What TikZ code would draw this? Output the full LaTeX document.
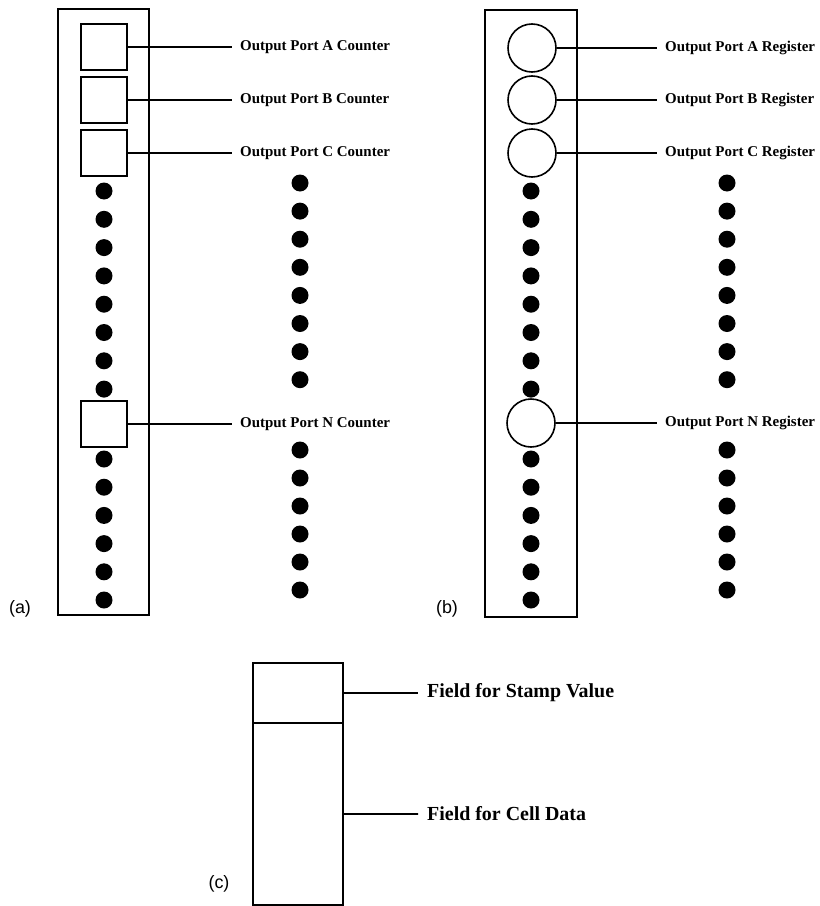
\documentclass[tikz,border=0pt]{standalone}
\usepackage{fontspec}
\setmainfont{Liberation Serif}
\setsansfont{Liberation Sans}
\usetikzlibrary{positioning}
\tikzset{
  frame/.style={line width=1.6bp},
  leader/.style={line width=1.6bp},
  slot/.style={draw,line width=1.6bp,fill=white,minimum size=46bp,inner sep=0pt},
  regcirc/.style={draw,circle,line width=1.6bp,fill=white,minimum size=48bp,inner sep=0pt},
  celldot/.style={fill,circle,minimum size=17bp,inner sep=0pt},
  field/.style={draw,line width=1.6bp,minimum width=90bp,inner sep=0pt,outer sep=0pt},
  portlabel/.style={anchor=west,inner xsep=8bp,inner ysep=0pt,font=\fontsize{15}{18}\selectfont\bfseries},
  fieldlabel/.style={anchor=west,inner xsep=9bp,inner ysep=0pt,font=\fontsize{20}{24}\selectfont\bfseries},
  panellabel/.style={font=\sffamily\fontsize{18}{20}\selectfont,inner sep=0pt}
}

\begin{document}
\begin{tikzpicture}[x=1bp,y=-1bp]
  \useasboundingbox (0,0) rectangle (820,906);

  % (a) counters
  \draw[frame] (58,9) rectangle (149,615);
  \foreach \k in {0,...,7} {
    \node[celldot] (adot\k) at (104,{191+28.3*\k}) {};
    \node[celldot] (arow\k) at (300,{183+28.1*\k}) {};
  }
  \foreach \k in {0,...,5} {
    \node[celldot] (adotlow\k) at (104,{459+28.2*\k}) {};
    \node[celldot] (arowlow\k) at (300,{450+28*\k}) {};
  }
  \node[slot] (sqA) at (104,47) {};
  \node[slot] (sqB) at (104,100) {};
  \node[slot] (sqC) at (104,153) {};
  \node[slot] (sqN) at (104,424) {};
  \node[portlabel] (labA) at (232,47) {Output Port A Counter};
  \node[portlabel] (labB) at (232,100) {Output Port B Counter};
  \node[portlabel] (labC) at (232,153) {Output Port C Counter};
  \node[portlabel] (labN) at (232,424) {Output Port N Counter};
  \draw[leader] (sqA.east) -- (labA.west);
  \draw[leader] (sqB.east) -- (labB.west);
  \draw[leader] (sqC.east) -- (labC.west);
  \draw[leader] (sqN.east) -- (labN.west);
  \node[panellabel] (tagA) at (20,609) {(a)};

  % (b) registers
  \draw[frame] (485,10) rectangle (577,617);
  \foreach \k in {0,...,7} {
    \node[celldot] (bdot\k) at (531,{191+28.3*\k}) {};
    \node[celldot] (brow\k) at (727,{183+28.1*\k}) {};
  }
  \foreach \k in {0,...,5} {
    \node[celldot] (bdotlow\k) at (531,{459+28.2*\k}) {};
    \node[celldot] (browlow\k) at (727,{450+28*\k}) {};
  }
  \node[regcirc] (crA) at (532,48) {};
  \node[regcirc] (crB) at (532,100) {};
  \node[regcirc] (crC) at (532,153) {};
  \node[regcirc] (crN) at (531,423) {};
  \node[portlabel] (regA) at (657,48) {Output Port A Register};
  \node[portlabel] (regB) at (657,100) {Output Port B Register};
  \node[portlabel] (regC) at (657,153) {Output Port C Register};
  \node[portlabel] (regN) at (657,423) {Output Port N Register};
  \draw[leader] (crA.east) -- (regA.west);
  \draw[leader] (crB.east) -- (regB.west);
  \draw[leader] (crC.east) -- (regC.west);
  \draw[leader] (crN.east) -- (regN.west);
  \node[panellabel] (tagB) at (447,609) {(b)};

  % (c) cell layout
  \node[field,minimum height=60bp] (stamp) at (298,693) {};
  \node[field,minimum height=182bp,below=0pt of stamp] (celldata) {};
  \node[fieldlabel] (labstamp) at (418,693) {Field for Stamp Value};
  \node[fieldlabel] (labdata) at (418,814) {Field for Cell Data};
  \draw[leader] (stamp.east) -- (labstamp.west);
  \draw[leader] (celldata.east) -- (labdata.west);
  \node[panellabel] (tagC) at (219,884) {(c)};
\end{tikzpicture}
\end{document}
